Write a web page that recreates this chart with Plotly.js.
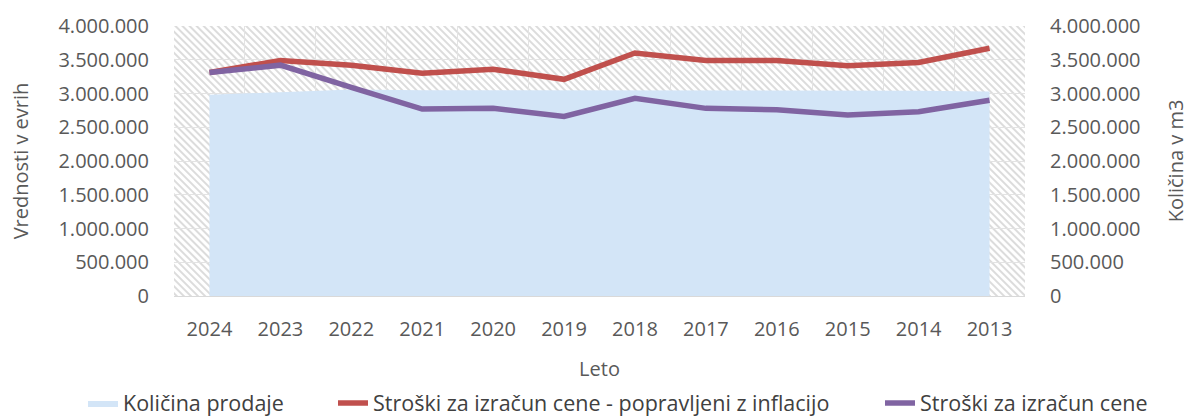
<!DOCTYPE html>
<html>
<head>
<meta charset="utf-8">
<script src="https://cdn.plot.ly/plotly-3.0.1.min.js"></script>
<style>html,body{margin:0;padding:0;background:#fff;}#chart{width:1189px;height:419px;}</style>
</head>
<body>
<div id="chart"></div>
<script>
// Data
const years = ['2024','2023','2022','2021','2020','2019','2018','2017','2016','2015','2014','2013'];
const kolicinaProdaje = [2980000, 3020000, 3060000, 3050000, 3050000, 3050000, 3050000, 3050000, 3050000, 3040000, 3040000, 3030000];
const stroskiInflacija = [3310000, 3490000, 3420000, 3300000, 3360000, 3210000, 3600000, 3490000, 3490000, 3410000, 3460000, 3670000];
const stroski = [3310000, 3420000, 3090000, 2770000, 2780000, 2660000, 2930000, 2780000, 2760000, 2680000, 2730000, 2900000];
const seriesNames = ['Količina prodaje', 'Stroški za izračun cene - popravljeni z inflacijo', 'Stroški za izračun cene'];

const hatchSvg = "<svg xmlns='http://www.w3.org/2000/svg' width='851' height='270' preserveAspectRatio='none'>" +
  "<defs><pattern id='p' width='5' height='5' patternUnits='userSpaceOnUse' patternTransform='rotate(-45)'>" +
  "<rect width='5' height='5' fill='white'/>" +
  "<line x1='1' y1='0' x2='1' y2='5' stroke='#d4d4d4' stroke-width='1.6'/></pattern></defs>" +
  "<rect width='100%' height='100%' fill='url(#p)'/></svg>";
const hatchUri = 'data:image/svg+xml;charset=utf-8,' + encodeURIComponent(hatchSvg);

const font = "'Open Sans', sans-serif";
const grey = '#595959';
const legendFont = {family: font, size: 21.5, color: '#404040'};

const traces = [
  {
    x: years, y: kolicinaProdaje, name: seriesNames[0], type: 'scatter', mode: 'lines',
    fill: 'tozeroy', fillcolor: '#d3e5f7', line: {width: 0, color: '#d3e5f7'},
    xaxis: 'x', yaxis: 'y', legend: 'legend'
  },
  {
    x: years, y: stroskiInflacija, name: seriesNames[1], type: 'scatter', mode: 'lines',
    line: {width: 5.5, color: '#c0504d'}, xaxis: 'x', yaxis: 'y2', legend: 'legend2'
  },
  {
    x: years, y: stroski, name: seriesNames[2], type: 'scatter', mode: 'lines',
    line: {width: 5.5, color: '#8064a2'}, xaxis: 'x', yaxis: 'y2', legend: 'legend3'
  }
];

function leg(xpx) {
  return {
    orientation: 'h', xref: 'container', yref: 'container',
    x: xpx / 1189, xanchor: 'left', y: 16 / 419, yanchor: 'middle',
    font: legendFont, bgcolor: 'rgba(0,0,0,0)'
  };
}

const layout = {
  width: 1189, height: 419,
  margin: {l: 174, r: 164, t: 26, b: 123},
  paper_bgcolor: '#ffffff',
  plot_bgcolor: 'rgba(0,0,0,0)',
  separators: ',.',
  font: {family: font, color: grey, size: 20},
  showlegend: true,
  legend: leg(83),
  legend2: leg(333),
  legend3: leg(880),
  images: [{
    source: hatchUri, xref: 'paper', yref: 'paper', x: 0, y: 1, sizex: 1, sizey: 1,
    xanchor: 'left', yanchor: 'top', sizing: 'stretch', layer: 'below'
  }],
  xaxis: {
    type: 'category', tickson: 'boundaries', showgrid: true, gridcolor: '#e3e3e3', gridwidth: 1,
    showline: true, linecolor: '#d9d9d9', linewidth: 1,
    ticks: '', ticklabelstandoff: 15,
    tickfont: {family: font, size: 20, color: grey},
    title: {text: 'Leto', font: {family: font, size: 20, color: grey}, standoff: 20},
    range: [-0.5, 11.5], fixedrange: true
  },
  yaxis: {
    side: 'right', range: [0, 4000000], dtick: 500000, tickformat: ',d',
    showgrid: true, gridcolor: '#e3e3e3', gridwidth: 1, zeroline: false,
    ticks: 'outside', ticklen: 20, tickcolor: 'rgba(0,0,0,0)',
    tickfont: {family: font, size: 20, color: grey},
    title: {text: 'Količina v m3', font: {family: font, size: 20, color: grey}, standoff: 33}
  },
  yaxis2: {
    overlaying: 'y', side: 'left', range: [0, 4000000], dtick: 500000, tickformat: ',d',
    showgrid: false, zeroline: false,
    ticks: 'outside', ticklen: 20, tickcolor: 'rgba(0,0,0,0)',
    tickfont: {family: font, size: 20, color: grey},
    title: {text: 'Vrednosti v evrih', font: {family: font, size: 20, color: grey}, standoff: 24}
  }
};

Plotly.newPlot('chart', traces, layout, {displayModeBar: false, staticPlot: true});
</script>
</body>
</html>
